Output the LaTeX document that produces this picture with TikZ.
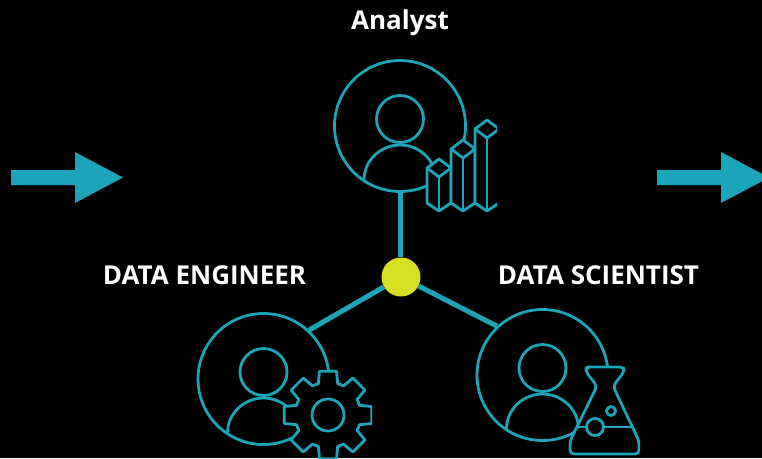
\documentclass[tikz,border=0pt]{standalone}
\usepackage{fontspec}
\setmainfont{Open Sans}
\definecolor{teal}{HTML}{1CA5B8}
\definecolor{hubyellow}{HTML}{D6E021}
\tikzset{
  icon/.style={draw=teal, line width=2.8pt, line join=round},
  ring/.style={circle, icon, minimum size=131pt, inner sep=0pt},
  headring/.style={circle, icon, minimum size=47pt, inner sep=0pt},
  link/.style={draw=teal, line width=5pt},
  title/.style={text=white, font=\fontsize{26}{30}\selectfont\bfseries},
}
\begin{document}
\begin{tikzpicture}[x=1pt, y=-1pt]
  \fill[black] (0,0) rectangle (762,458);
  \useasboundingbox (0,0) rectangle (762,458);

  \foreach \x in {0,646}
    \fill[teal] (11+\x,170) -- (75+\x,170) -- (75+\x,152) -- (123+\x,177.5)
      -- (75+\x,203) -- (75+\x,185) -- (11+\x,185) -- cycle;

  \foreach \name/\x/\y in {analyst/400/126, engineer/263.5/379, scientist/542.5/375} {
    \node[ring] (\name) at (\x,\y) {};
    \node[headring] (\name head) at (\x,\y-7) {};
    \draw[icon] (\x-36,\y+54) .. controls (\x-36,\y+34) and (\x-19,\y+19) .. (\x,\y+19)
      .. controls (\x+19,\y+19) and (\x+36,\y+34) .. (\x+36,\y+54);
  }

  \begin{scope}
    \clip (0,0) rectangle (497,458);
    \foreach \x/\t in {439/168, 463/149, 487/129} {
      \filldraw[icon, fill=black] (\x-12,\t) -- (\x,\t-9) -- (\x+12,\t) -- (\x+12,203)
        -- (\x,211) -- (\x-12,203) -- cycle;
      \draw[icon] (\x-12,\t) -- (\x,\t+9) -- (\x+12,\t);
      \draw[icon] (\x,\t+9) -- (\x,211);
    }
  \end{scope}

  \begin{scope}
    \clip (0,0) rectangle (372,458);
    \filldraw[icon, fill=black] ([shift={(328,415)}]-17:33)
      \foreach \a in {0,45,...,315} {
        -- ([shift={(328,415)}]\a-17:33) -- ([shift={(328,415)}]\a-11:44.5)
        -- ([shift={(328,415)}]\a+11:44.5) -- ([shift={(328,415)}]\a+17:33)
      } -- cycle;
    \node[circle, icon, minimum size=32pt, inner sep=0pt] (gearhole) at (328,415) {};
  \end{scope}

  \begin{scope}
    \clip (0,0) rectangle (640,458);
    \filldraw[icon, fill=black, rounded corners=4pt] (591,367) -- (586,367) -- (586,372) -- (597,386)
      -- (570,441) -- (570,454) -- (639,454) -- (639,441) -- (613,386) -- (624,372)
      -- (624,367) -- cycle;
    \draw[icon] (577,427) -- (633,427);
    \filldraw[icon, fill=black] (595,427) circle [radius=8.5];
    \draw[icon] (611,411) circle [radius=4.5];
  \end{scope}

  \node[circle, fill=hubyellow, minimum size=39pt, inner sep=0pt] (hub) at (401,277) {};
  \draw[link] (analyst.south) -- (analyst.south |- hub.north);
  \draw[link] (hub) -- (engineer.47);
  \draw[link] (hub) -- (scientist.133);

  \node[title] (analysttitle) at (400,23) {Analyst};
  \node[title] (engineertitle) at (204.5,275.5) {DATA ENGINEER};
  \node[title] (scientisttitle) at (598.5,275.5) {DATA SCIENTIST};
\end{tikzpicture}
\end{document}
